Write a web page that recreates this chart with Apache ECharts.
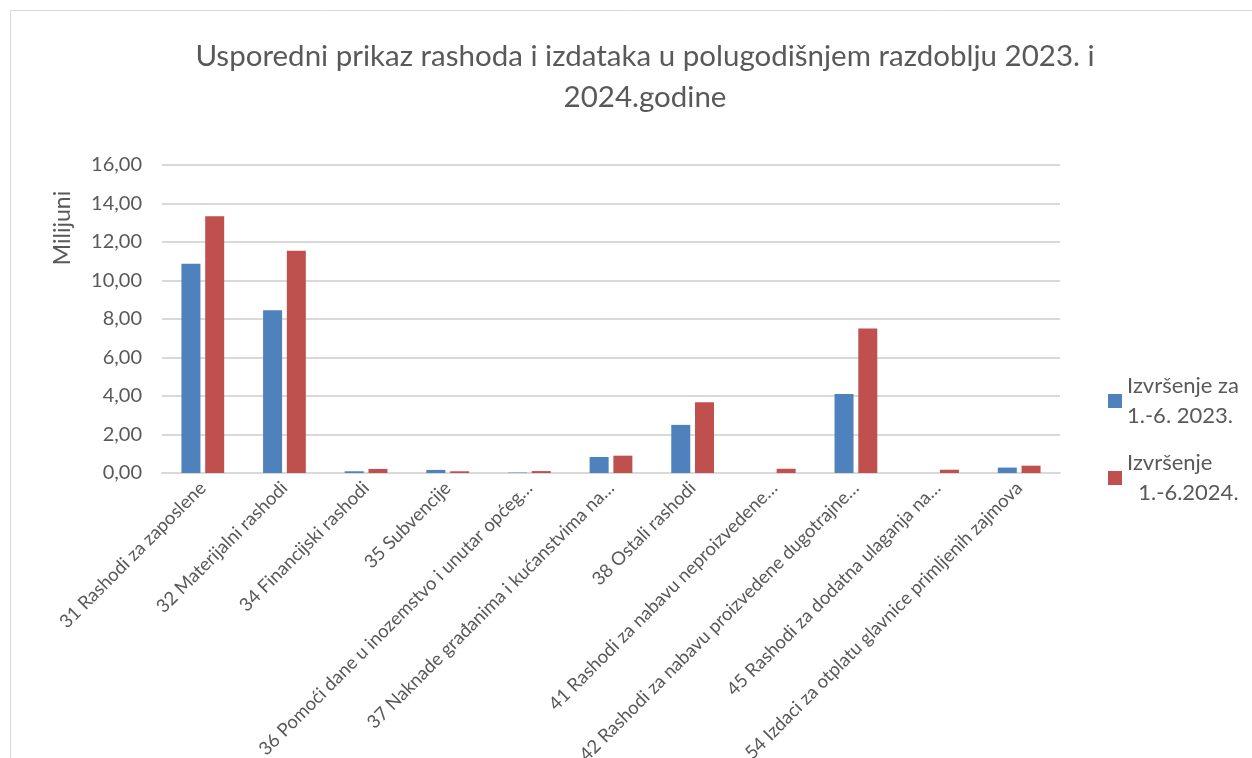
<!DOCTYPE html>
<html>
<head>
<meta charset="utf-8">
<script src="https://cdn.jsdelivr.net/npm/echarts@6/dist/echarts.min.js"></script>
<style>
  html, body { margin: 0; padding: 0; background: #fff; }
  #main { width: 1252px; height: 758px; }
</style>
</head>
<body>
<div id="main"></div>
<script>
// kategorije rashoda
var categories = [
  '31 Rashodi za zaposlene',
  '32 Materijalni rashodi',
  '34 Financijski rashodi',
  '35 Subvencije',
  '36 Pomoći dane u inozemstvo i unutar općeg…',
  '37 Naknade građanima i kućanstvima na…',
  '38 Ostali rashodi',
  '41 Rashodi za nabavu neproizvedene…',
  '42 Rashodi za nabavu proizvedene dugotrajne…',
  '45 Rashodi za dodatna ulaganja na…',
  '54 Izdaci za otplatu glavnice primljenih zajmova'
];
var seriesNames = ['Izvršenje za\n1.-6. 2023.', 'Izvršenje\n  1.-6.2024.'];
// u milijunima
var values2023 = [10.87, 8.45, 0.09, 0.16, 0.02, 0.83, 2.50, 0, 4.11, 0, 0.28];
var values2024 = [13.34, 11.54, 0.21, 0.09, 0.10, 0.90, 3.68, 0.22, 7.51, 0.17, 0.38];

var textColor = '#595959';
var font = 'Lato';

var chart = echarts.init(document.getElementById('main'));

var option = {
  backgroundColor: '#ffffff',
  color: ['#4f81bd', '#c0504d'],
  textStyle: { fontFamily: font },
  title: {
    text: 'Usporedni prikaz rashoda i izdataka u polugodišnjem razdoblju 2023. i\n2024.godine',
    left: 640,
    textAlign: 'center',
    top: 31,
    textStyle: {
      fontFamily: font,
      fontSize: 29.5,
      fontWeight: 'normal',
      color: textColor,
      lineHeight: 41
    }
  },
  graphic: [
    {
      type: 'rect',
      shape: { x: 10.5, y: 10.5, width: 1260, height: 760 },
      style: { fill: 'none', stroke: '#d9d9d9', lineWidth: 1 },
      silent: true
    },
    {
      type: 'text',
      x: 63,
      y: 228,
      rotation: Math.PI / 2,
      style: {
        text: 'Milijuni',
        fontFamily: font,
        fontSize: 23,
        fill: textColor,
        align: 'center',
        verticalAlign: 'middle'
      }
    }
  ],
  legend: {
    orient: 'vertical',
    left: 1103,
    top: 366,
    itemWidth: 14,
    itemHeight: 14,
    itemGap: 17,
    icon: 'rect',
    textStyle: {
      fontFamily: font,
      fontSize: 22,
      color: textColor,
      lineHeight: 30
    },
    data: seriesNames
  },
  grid: {
    left: 162,
    right: 192,
    top: 165,
    bottom: 285,
    containLabel: false,
    outerBoundsMode: 'none'
  },
  xAxis: {
    type: 'category',
    data: categories,
    axisLine: { lineStyle: { color: '#d9d9d9', width: 2 } },
    axisTick: { show: false },
    axisLabel: {
      rotate: 45,
      interval: 0,
      margin: 12,
      fontFamily: font,
      fontSize: 18.5,
      color: textColor
    }
  },
  yAxis: {
    type: 'value',
    min: 0,
    max: 16,
    interval: 2,
    axisLine: { show: false },
    axisTick: { show: false },
    splitLine: { lineStyle: { color: '#d9d9d9', width: 2 } },
    axisLabel: {
      margin: 20,
      fontFamily: font,
      fontSize: 20,
      color: textColor,
      formatter: function (v) { return v.toFixed(2).replace('.', ','); }
    }
  },
  series: [
    {
      name: seriesNames[0],
      type: 'bar',
      data: values2023,
      barWidth: 19,
      barGap: '25%'
    },
    {
      name: seriesNames[1],
      type: 'bar',
      data: values2024,
      barWidth: 19,
      barGap: '25%'
    }
  ]
};

chart.setOption(option);
</script>
</body>
</html>
